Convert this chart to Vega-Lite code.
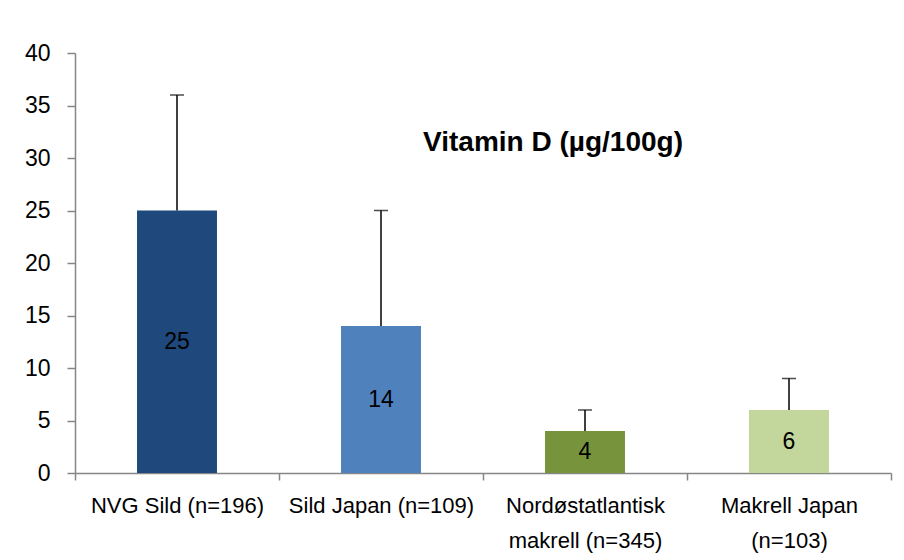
{
  "$schema": "https://vega.github.io/schema/vega-lite/v6.json",
  "autosize": {"type": "none"},
  "width": 816,
  "height": 420,
  "padding": {"left": 75, "top": 53, "right": 13, "bottom": 87},
  "background": "white",
  "title": {
    "text": "Vitamin D (µg/100g)",
    "font": "Liberation Sans",
    "fontSize": 28,
    "fontWeight": "bold",
    "color": "#000000",
    "anchor": "middle",
    "baseline": "alphabetic",
    "offset": 0,
    "dx": 70,
    "dy": 137
  },
  "data": {
    "values": [
      {"cat": "NVG Sild (n=196)", "value": 25, "hi": 36, "color": "c1"},
      {"cat": "Sild Japan (n=109)", "value": 14, "hi": 25, "color": "c2"},
      {"cat": "Nordøstatlantisk makrell (n=345)", "value": 4, "hi": 6, "color": "c3"},
      {"cat": "Makrell Japan (n=103)", "value": 6, "hi": 9, "color": "c4"}
    ]
  },
  "encoding": {
    "x": {
      "field": "cat",
      "type": "nominal",
      "sort": null,
      "scale": {"paddingInner": 0, "paddingOuter": 0},
      "axis": {
        "title": null,
        "labelAngle": 0,
        "tickBand": "extent",
        "domainColor": "#868686",
        "domainWidth": 1.5,
        "tickColor": "#868686",
        "tickWidth": 1.5,
        "tickSize": 7,
        "labelFont": "Liberation Sans",
        "labelFontSize": 22,
        "labelColor": "#000000",
        "labelPadding": 15,
        "labelLineHeight": 35,
        "labelLimit": 0,
        "labelExpr": "datum.value == 'Nordøstatlantisk makrell (n=345)' ? ['Nordøstatlantisk', 'makrell (n=345)'] : datum.value == 'Makrell Japan (n=103)' ? ['Makrell Japan', '(n=103)'] : datum.value"
      }
    }
  },
  "layer": [
    {
      "mark": {"type": "bar", "width": {"band": 0.392}},
      "encoding": {
        "y": {
          "field": "value",
          "type": "quantitative",
          "scale": {"domain": [0, 40]},
          "axis": {
            "title": null,
            "values": [0, 5, 10, 15, 20, 25, 30, 35, 40],
            "grid": false,
            "domainColor": "#868686",
            "domainWidth": 1.5,
            "tickColor": "#868686",
            "tickWidth": 1.5,
            "tickSize": 8,
            "labelFont": "Liberation Sans",
            "labelFontSize": 23,
            "labelColor": "#000000",
            "labelPadding": 17
          }
        },
        "color": {
          "field": "color",
          "type": "nominal",
          "scale": {"domain": ["c1", "c2", "c3", "c4"], "range": ["#1F497D", "#4F81BD", "#77933C", "#C3D69B"]},
          "legend": null
        }
      }
    },
    {
      "mark": {"type": "rule", "color": "#000000", "strokeWidth": 1.5},
      "encoding": {
        "y": {"field": "value", "type": "quantitative"},
        "y2": {"field": "hi"}
      }
    },
    {
      "mark": {"type": "tick", "color": "#000000", "thickness": 1.5, "size": 14, "orient": "horizontal"},
      "encoding": {
        "y": {"field": "hi", "type": "quantitative"}
      }
    },
    {
      "transform": [{"calculate": "datum.value / 2", "as": "mid"}],
      "mark": {"type": "text", "font": "Liberation Sans", "fontSize": 23, "color": "#000000", "baseline": "middle"},
      "encoding": {
        "y": {"field": "mid", "type": "quantitative"},
        "text": {"field": "value", "type": "quantitative"}
      }
    }
  ],
  "config": {
    "view": {"stroke": null}
  }
}
